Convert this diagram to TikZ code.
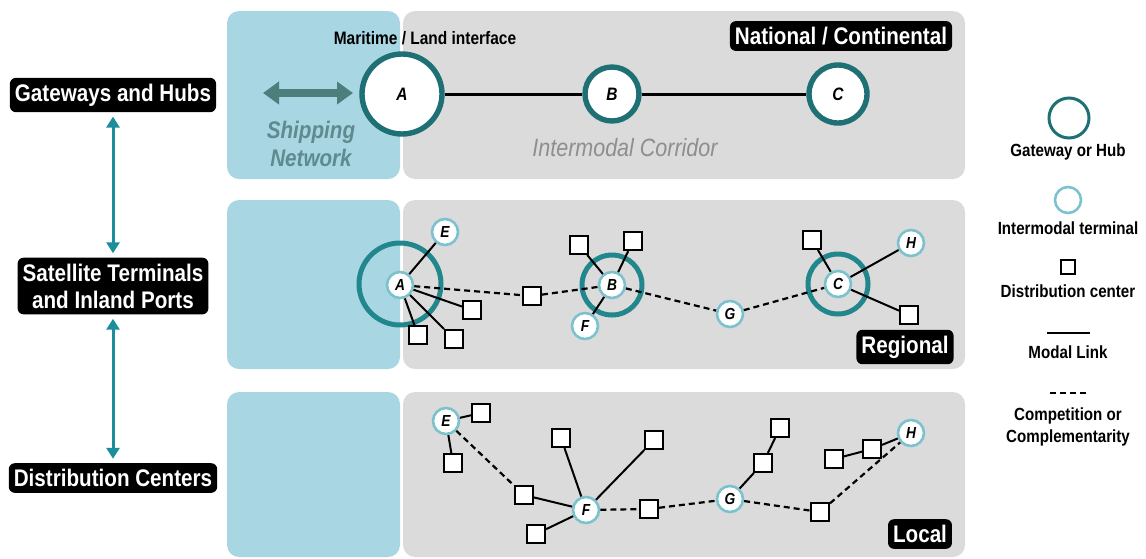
\documentclass[tikz,border=0pt]{standalone}
\usepackage{fontspec}
\setmainfont{Liberation Sans}[FakeStretch=0.86]
\usetikzlibrary{arrows.meta}

\definecolor{hubteal}{HTML}{1F7074}
\definecolor{ringteal}{HTML}{22878C}
\definecolor{termteal}{HTML}{7CC2CE}
\definecolor{arrowteal}{HTML}{1C8E9B}
\definecolor{shipteal}{HTML}{4C7F7B}
\definecolor{shiptext}{HTML}{5F8B8E}
\definecolor{panelgray}{HTML}{DBDBDB}
\definecolor{panelblue}{HTML}{A8D6E3}
\definecolor{corridor}{HTML}{8E8E8E}

\begin{document}
\begin{tikzpicture}[x=0.5pt,y=-0.5pt]
  \tikzstyle{hub}=[circle,draw=hubteal,line width=2.7pt,fill=white,inner sep=0pt,font=\fontsize{9}{10}\selectfont\bfseries\itshape]
  \tikzstyle{ring}=[circle,draw=ringteal,line width=2.5pt,inner sep=0pt]
  \tikzstyle{term}=[circle,draw=termteal,line width=1.3pt,fill=white,minimum size=13pt,inner sep=0pt,font=\fontsize{8}{9}\selectfont\bfseries\itshape]
  \tikzstyle{dc}=[rectangle,draw=black,line width=1pt,fill=white,minimum size=9pt,inner sep=0pt]
  \tikzstyle{modal}=[line width=1pt]
  \tikzstyle{compet}=[line width=1.1pt,dash pattern=on 3pt off 2pt]
  \tikzstyle{tag}=[fill=black,text=white,rounded corners=3pt,inner xsep=2.5pt,inner ysep=3pt,align=center,font=\fontsize{12}{13.5}\selectfont\bfseries]
  \tikzstyle{legend}=[align=center,font=\fontsize{8.8}{11}\selectfont\bfseries]
  \tikzstyle{updown}=[arrowteal,line width=1.5pt,{Triangle[width=6.5pt,length=5.5pt]}-{Triangle[width=6.5pt,length=5.5pt]}]

  \useasboundingbox (0,0) rectangle (1146,558);

  % panels
  \fill[panelblue,rounded corners=6pt] (227,11) rectangle (400,179);
  \fill[panelgray,rounded corners=6pt] (403,11) rectangle (965,179);
  \fill[panelblue,rounded corners=6pt] (227,200) rectangle (400,369);
  \fill[panelgray,rounded corners=6pt] (403,200) rectangle (965,369);
  \fill[panelblue,rounded corners=6pt] (227,392) rectangle (400,557);
  \fill[panelgray,rounded corners=6pt] (403,392) rectangle (965,557);

  % levels
  \node[tag] (lvl_1) at (113,95) {Gateways and Hubs};
  \node[tag] (lvl_2) at (113,286) {Satellite Terminals\\and Inland Ports};
  \node[tag] (lvl_3) at (113,478) {Distribution Centers};
  \draw[updown] ([yshift=-2pt]lvl_1.south) -- ([yshift=2pt]lvl_2.north);
  \draw[updown] ([yshift=-2pt]lvl_2.south) -- ([yshift=2pt]lvl_3.north);

  % national / continental
  \node[tag] (tag_N) at (841,36) {National / Continental};
  \node[font=\fontsize{9}{10}\selectfont\bfseries] (iface) at (425,38) {Maritime / Land interface};
  \node[hub,minimum size=40pt] (N_A) at (402,94) {A};
  \node[hub,minimum size=27pt] (N_B) at (612,94) {B};
  \node[hub,minimum size=29pt] (N_C) at (838,94) {C};
  \draw[line width=1.5pt] (N_A) -- (N_B) -- (N_C);
  \coordinate (ship_l) at (263,93);
  \coordinate (ship_r) at (353,93);
  \draw[shipteal,line width=4pt,{Triangle[width=11pt,length=8pt]}-{Triangle[width=11pt,length=8pt]}] (ship_l) -- (ship_r);
  \node[text=shiptext,align=center,font=\fontsize{12}{14}\selectfont\bfseries\itshape] (ship) at (311,144) {Shipping\\Network};
  \node[text=corridor,font=\fontsize{12.5}{14}\selectfont\itshape] (corr) at (625,148) {Intermodal Corridor};

  % regional
  \node[tag] (tag_R) at (905,347) {Regional};
  \node[ring,minimum size=41pt] (R_ringA) at (400,284) {};
  \node[ring,minimum size=30pt] (R_ringB) at (612,285) {};
  \node[ring,minimum size=30pt] (R_ringC) at (838,284) {};
  \node[term] (R_A) at (400,285) {A};
  \node[term] (R_B) at (612,285) {B};
  \node[term] (R_C) at (838,284) {C};
  \node[term] (R_E) at (445,232) {E};
  \node[term] (R_F) at (585,326) {F};
  \node[term] (R_G) at (730,314) {G};
  \node[term] (R_H) at (911,243) {H};
  \node[dc] (R_d1) at (418,335) {};
  \node[dc] (R_d2) at (454,339) {};
  \node[dc] (R_d3) at (472,310) {};
  \node[dc] (R_d4) at (532,296) {};
  \node[dc] (R_d5) at (579,245) {};
  \node[dc] (R_d6) at (633,241) {};
  \node[dc] (R_d7) at (812,240) {};
  \node[dc] (R_d8) at (909,315) {};
  \draw[modal] (R_A) -- (R_E);
  \draw[modal] (R_A) -- (R_d1);
  \draw[modal] (R_A) -- (R_d2);
  \draw[modal] (R_A) -- (R_d3);
  \draw[modal] (R_B) -- (R_d5);
  \draw[modal] (R_B) -- (R_d6);
  \draw[modal] (R_B) -- (R_F);
  \draw[modal] (R_C) -- (R_d7);
  \draw[modal] (R_C) -- (R_H);
  \draw[modal] (R_C) -- (R_d8);
  \draw[compet] (R_A) -- (R_d4) -- (R_B);
  \draw[compet] (R_B) -- (R_G) -- (R_C);

  % local
  \node[tag] (tag_L) at (920,534) {Local};
  \node[term] (L_E) at (446,421) {E};
  \node[term] (L_F) at (586,510) {F};
  \node[term] (L_G) at (730,499) {G};
  \node[term] (L_H) at (911,433) {H};
  \node[dc] (L_d1) at (481,413) {};
  \node[dc] (L_d2) at (453,463) {};
  \node[dc] (L_d3) at (524,495) {};
  \node[dc] (L_d4) at (561,438) {};
  \node[dc] (L_d5) at (536,534) {};
  \node[dc] (L_d6) at (654,440) {};
  \node[dc] (L_d7) at (649,509) {};
  \node[dc] (L_d8) at (763,463) {};
  \node[dc] (L_d9) at (780,428) {};
  \node[dc] (L_d10) at (820,512) {};
  \node[dc] (L_d11) at (834,459) {};
  \node[dc] (L_d12) at (872,449) {};
  \draw[modal] (L_E) -- (L_d1);
  \draw[modal] (L_E) -- (L_d2);
  \draw[modal] (L_d3) -- (L_F);
  \draw[modal] (L_F) -- (L_d4);
  \draw[modal] (L_F) -- (L_d5);
  \draw[modal] (L_F) -- (L_d6);
  \draw[modal] (L_G) -- (L_d8) -- (L_d9);
  \draw[modal] (L_d11) -- (L_d12) -- (L_H);
  \draw[compet] (L_E) -- (L_d3);
  \draw[compet] (L_F) -- (L_d7) -- (L_G);
  \draw[compet] (L_G) -- (L_d10) -- (L_H);

  % legend
  \node[circle,draw=hubteal,line width=1.5pt,minimum size=20pt,inner sep=0pt] (key_hub) at (1069,118) {};
  \node[legend] (key_hubtxt) at (1068,152) {Gateway or Hub};
  \node[circle,draw=termteal,line width=1.3pt,minimum size=13pt,inner sep=0pt] (key_term) at (1068,200) {};
  \node[legend] (key_termtxt) at (1068,228) {Intermodal terminal};
  \node[dc,minimum size=7pt] (key_dc) at (1068,267) {};
  \node[legend] (key_dctxt) at (1068,291) {Distribution center};
  \coordinate (key_m1) at (1047,333);
  \coordinate (key_m2) at (1090,333);
  \draw[modal] (key_m1) -- (key_m2);
  \node[legend] (key_mtxt) at (1068,352) {Modal Link};
  \coordinate (key_c1) at (1050,393);
  \coordinate (key_c2) at (1089,393);
  \draw[compet,line width=1pt] (key_c1) -- (key_c2);
  \node[legend] (key_ctxt) at (1068,427) {Competition or\\Complementarity};
\end{tikzpicture}
\end{document}
